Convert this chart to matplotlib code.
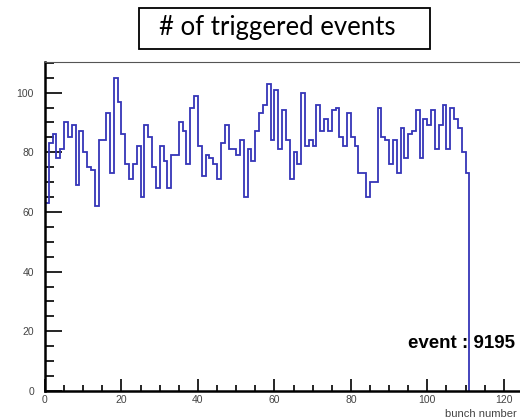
import numpy as np
import matplotlib
matplotlib.use("Agg")
import matplotlib.pyplot as plt
from matplotlib.patches import Rectangle
from matplotlib.ticker import MultipleLocator

# triggered events per bunch number (bins of width 1, starting at 0)
counts = [63, 83, 86, 78, 81, 90, 85, 89, 69, 87,
          80, 75, 74, 62, 84, 84, 93, 73, 105, 97,
          86, 76, 71, 76, 82, 65, 89, 85, 75, 68,
          82, 77, 68, 79, 79, 90, 87, 76, 95, 99,
          82, 72, 79, 78, 76, 71, 83, 89, 81, 81,
          79, 84, 65, 81, 77, 87, 93, 96, 103, 84,
          101, 81, 94, 84, 71, 80, 76, 100, 82, 84,
          82, 96, 87, 91, 87, 94, 95, 85, 82, 93,
          85, 82, 73, 73, 65, 70, 70, 95, 85, 84,
          76, 84, 73, 88, 78, 86, 87, 94, 78, 91,
          89, 94, 81, 89, 96, 81, 95, 91, 88, 80,
          73]
title = "# of triggered events"
xlabel = "bunch number"
event_text = "event : 9195"

plt.rcParams['font.family'] = ['Liberation Sans', 'DejaVu Sans']

fig = plt.figure(figsize=(5.2, 4.2), dpi=100)
ax = fig.add_axes([45/520, 29/420, 497/520, 329/420])

edges = np.arange(len(counts) + 1)
vals = np.array(counts, dtype=float)
# ROOT-like outline: start and end on the baseline
xs = np.concatenate([[edges[0]], np.repeat(edges, 2)[1:-1], [edges[-1]]])
ys = np.concatenate([[0], np.repeat(vals, 2), [0]])
ax.plot(xs, ys, color="#3535b8", lw=1.3, solid_joinstyle="miter")

ax.set_xlim(0, 130)
ax.set_ylim(0, max(counts) * 1.05)

ax.xaxis.set_major_locator(MultipleLocator(20))
ax.xaxis.set_minor_locator(MultipleLocator(5))
ax.yaxis.set_major_locator(MultipleLocator(20))
ax.yaxis.set_minor_locator(MultipleLocator(5))

ax.tick_params(axis="x", which="major", direction="in", length=9, width=1.2,
               labelsize=7.5, labelcolor="#444444", pad=3)
ax.tick_params(axis="x", which="minor", direction="in", length=4.5, width=1.2)
ax.tick_params(axis="y", which="major", direction="in", length=12, width=1.2,
               labelsize=7.5, labelcolor="#444444", pad=8)
ax.tick_params(axis="y", which="minor", direction="in", length=6.5, width=1.2)

ax.spines["left"].set_linewidth(1.8)
ax.spines["bottom"].set_linewidth(1.8)
ax.spines["top"].set_linewidth(0.8)
ax.spines["top"].set_color("#555555")
ax.spines["right"].set_visible(False)

fig.text(517/520, 1 - 414/420, xlabel, fontsize=8, color="#444444",
         ha="right", va="center")
fig.text(408/520, 1 - 343/420, event_text, fontsize=13.5, fontweight="bold",
         ha="left", va="center")

fig.patches.append(Rectangle((139/520, 1 - 49/420), 291/520, 41/420,
                             transform=fig.transFigure, fill=False,
                             edgecolor="black", lw=1.3))
fig.text(277/520, 1 - 27/420, title, fontsize=18.5, family=["Lato", "DejaVu Sans"],
         ha="center", va="center")

fig.savefig("out.png", dpi=100)
